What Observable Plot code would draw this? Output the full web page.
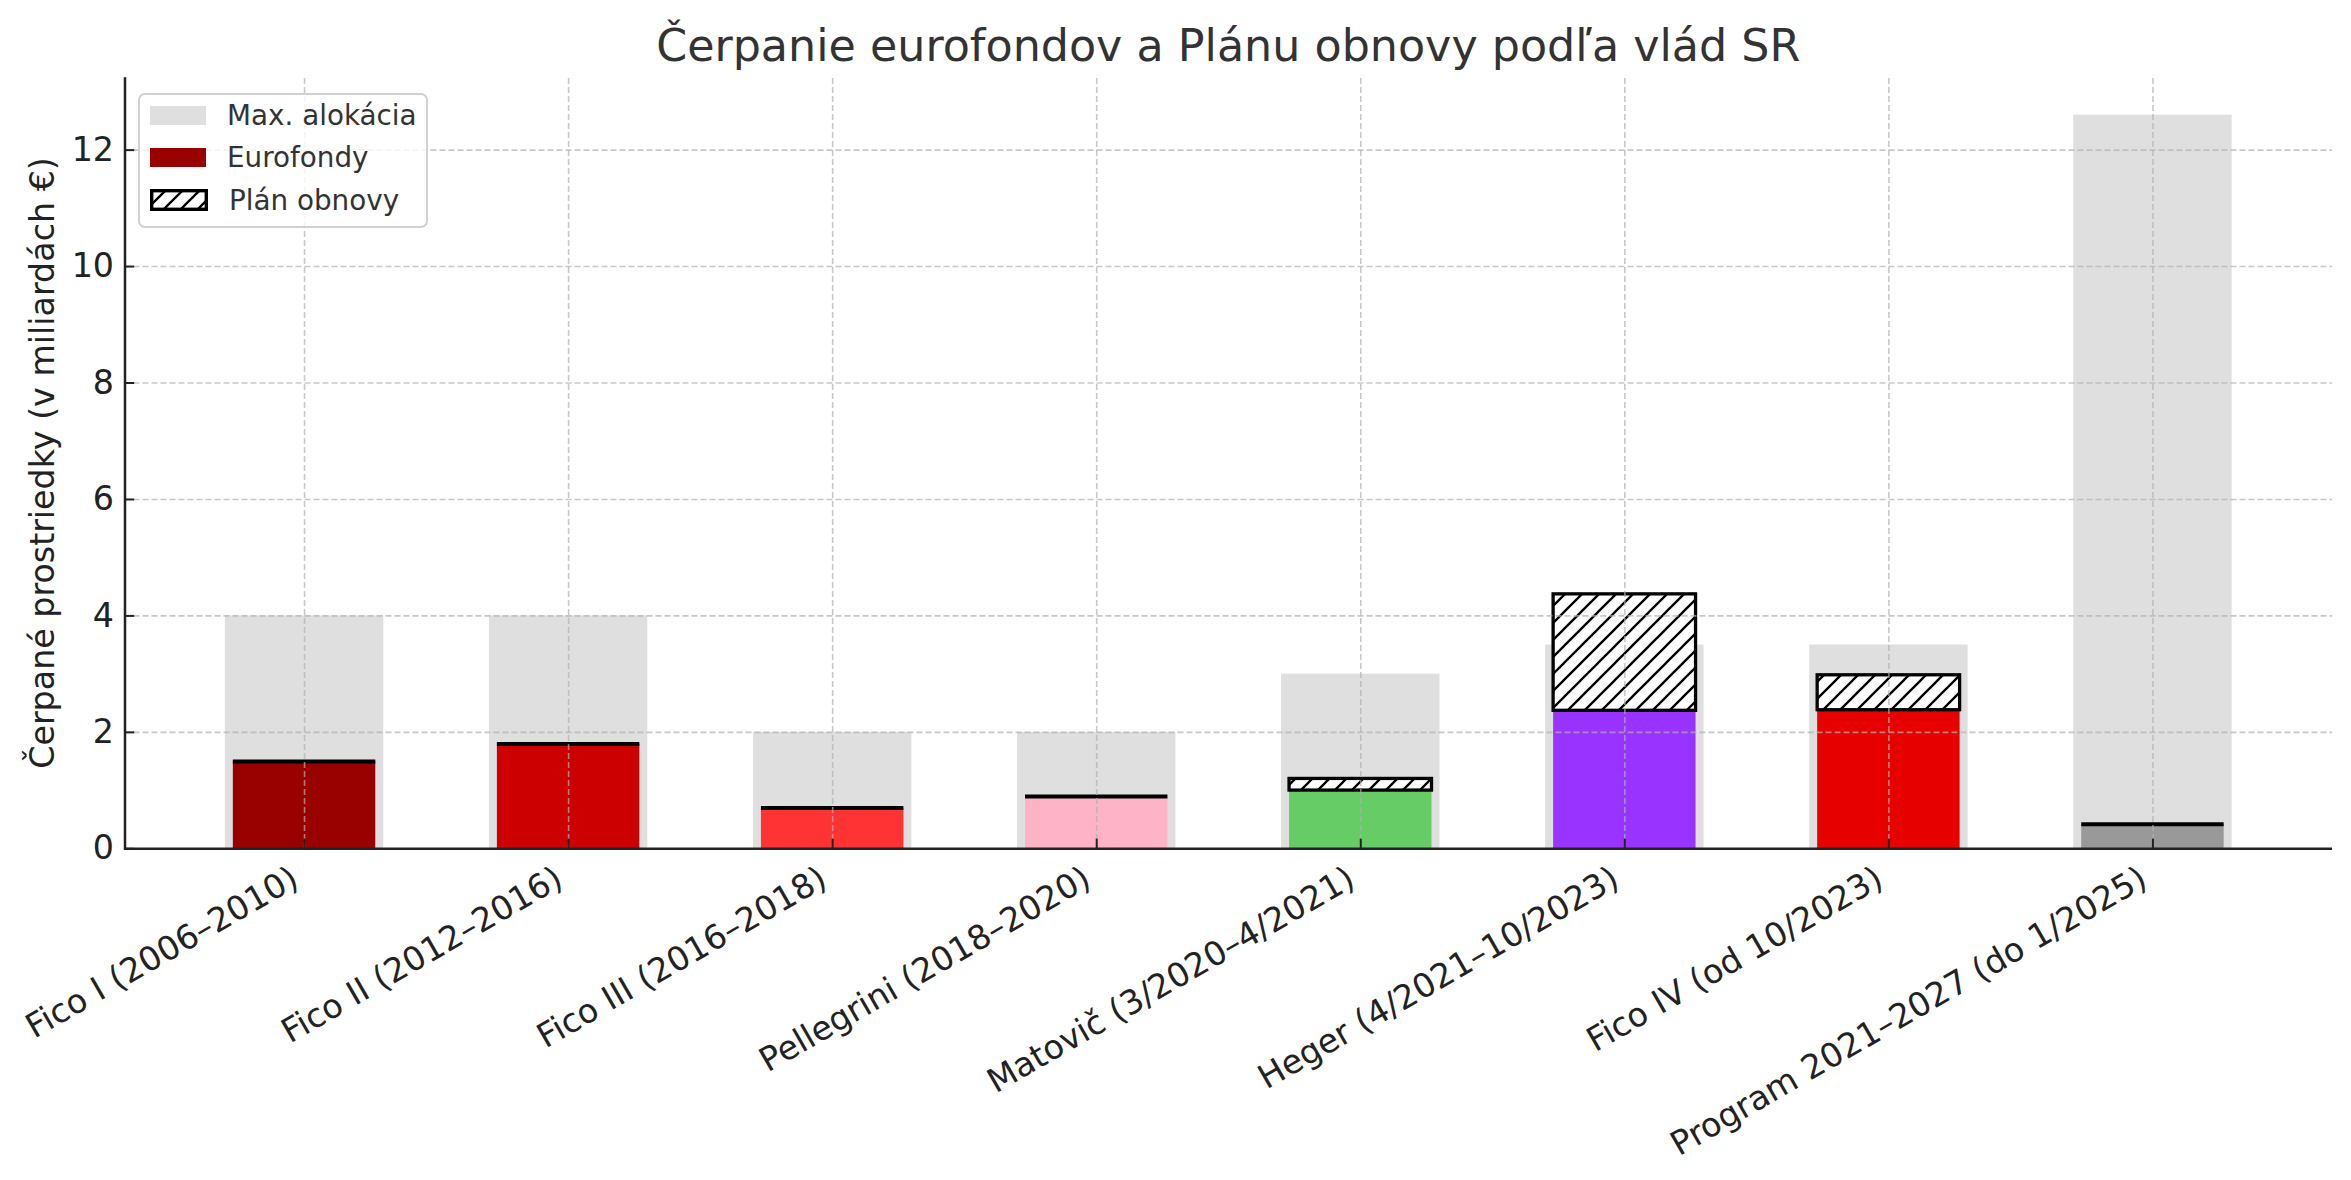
<!DOCTYPE html>
<html>
<head>
<meta charset="utf-8">
<script src="https://cdn.jsdelivr.net/npm/d3@7"></script>
<script src="https://cdn.jsdelivr.net/npm/@observablehq/plot@0.6"></script>
<style>
  body { margin: 0; background: #fff; font-family: "DejaVu Sans", sans-serif; }
  #wrap { position: relative; width: 2351px; height: 1180px; overflow: hidden; }
  #title { position: absolute; left: 124.5px; width: 2207.5px; top: 19.5px; text-align: center;
           font-size: 44.4px; line-height: 51.7px; color: #333; white-space: nowrap; }
  #ylabel { position: absolute; left: 42px; top: 463px; transform: translate(-50%, -50%) rotate(-90deg);
            font-size: 33.3px; color: #222; white-space: nowrap; }
  #legend { position: absolute; left: 138px; top: 93px; width: 286px; height: 131px;
            border: 2px solid rgba(204,204,204,0.9); border-radius: 7px; background: rgba(255,255,255,0.8); }
  .row { position: absolute; left: 0; height: 30px; display: flex; align-items: center; }
  .row svg { margin-left: 10px; display: block; }
  .row span { margin-left: 21px; font-size: 27.8px; color: #333; white-space: nowrap; }
</style>
</head>
<body>
<svg width="0" height="0" style="position:absolute">
  <defs>
    <pattern id="hatch" patternUnits="userSpaceOnUse" width="17" height="17">
      <rect width="17" height="17" fill="#fff"/>
      <path d="M0,17 L17,0 M-4,4 L4,-4 M13,21 L21,13" stroke="#000" stroke-width="2.3"/>
    </pattern>
  </defs>
</svg>
<div id="wrap">
  <div id="chart"></div>
  <div id="title"></div>
  <div id="ylabel"></div>
  <div id="legend"></div>
</div>
<script>
// ---- data ----
const chartTitle = "Čerpanie eurofondov a Plánu obnovy podľa vlád SR";
const yLabel = "Čerpané prostriedky (v miliardách €)";
const categories = [
  "Fico I (2006–2010)",
  "Fico II (2012–2016)",
  "Fico III (2016–2018)",
  "Pellegrini (2018–2020)",
  "Matovič (3/2020–4/2021)",
  "Heger (4/2021–10/2023)",
  "Fico IV (od 10/2023)",
  "Program 2021–2027 (do 1/2025)"
];
const maxAlloc   = [4, 4, 2, 2, 3, 3.5, 3.5, 12.6];
const eurofondy  = [1.5, 1.8, 0.7, 0.9, 1.0, 2.37, 2.38, 0.42];
const planObnovy = [0, 0, 0, 0, 0.2, 2.0, 0.6, 0];
const barColors  = ["#990000", "#cc0000", "#ff3333", "#ffb3c6", "#66cc66", "#9933ff", "#e60000", "#999999"];
const yTicks = [0, 2, 4, 6, 8, 10, 12];
const legendItems = ["Max. alokácia", "Eurofondy", "Plán obnovy"];

// ---- table ----
const rows = categories.map((name, i) => ({
  name, alloc: maxAlloc[i], euro: eurofondy[i], plan: planObnovy[i],
  top: eurofondy[i] + planObnovy[i], color: barColors[i]
}));

const gridStyle = {stroke: "#b0b0b0", strokeOpacity: 0.7, strokeWidth: 1.6, strokeDasharray: "6,3"};

const chart = Plot.plot({
  width: 2351,
  height: 1180,
  marginTop: 78,
  marginLeft: 124.5,
  marginRight: 19,
  marginBottom: 331.7,
  style: {fontFamily: "DejaVu Sans", fontSize: "33.3px", color: "#222", background: "transparent", overflow: "visible"},
  x: {type: "band", domain: categories, paddingInner: 0.4, paddingOuter: 0.38, align: 0.5, round: false, axis: null, label: null},
  y: {domain: [0, 13.23], axis: null, label: null},
  marks: [
    Plot.barY(rows, {x: "name", y: "alloc", fill: "#dfdfdf"}),
    Plot.barY(rows, {x: "name", y: "euro", fill: "color", insetLeft: 8, insetRight: 8}),
    Plot.barY(rows.filter(d => d.plan > 0), {x: "name", y1: "euro", y2: "top", fill: "url(#hatch)", stroke: "#000", strokeWidth: 3.3, insetLeft: 8, insetRight: 8}),
    Plot.tickY(rows.filter(d => d.plan === 0), {x: "name", y: "euro", stroke: "#000", strokeWidth: 4, insetLeft: 8, insetRight: 8}),
    Plot.gridX(categories, gridStyle),
    Plot.gridY(yTicks, gridStyle),
    Plot.ruleY([0], {stroke: "#222", strokeWidth: 2.5}),
    Plot.frame({anchor: "left", stroke: "#222", strokeWidth: 2.5}),
    Plot.axisY(yTicks, {tickSize: 9.7, dx: 9.7, tickPadding: 11, tickFormat: d3.format("d"), fontSize: 33.3, fill: "#222", stroke: "#222", strokeWidth: 2, label: null}),
    Plot.axisX(categories, {tickSize: 9.7, dy: -9.7, tickFormat: () => "", stroke: "#222", strokeWidth: 2, label: null}),
    Plot.text(categories, {x: d => d, frameAnchor: "bottom", rotate: -30, textAnchor: "end", lineAnchor: "middle", dx: -9, dy: 27, fontSize: 33.3, fill: "#222"})
  ]
});
document.getElementById("chart").appendChild(chart);

document.getElementById("title").textContent = chartTitle;
document.getElementById("ylabel").textContent = yLabel;

// ---- legend ----
const swatches = [
  `<svg width="56" height="19"><rect width="56" height="19" fill="#dfdfdf"/></svg>`,
  `<svg width="56" height="19"><rect width="56" height="19" fill="${barColors[0]}"/></svg>`,
  `<svg width="58" height="22"><rect x="1.7" y="1.7" width="54.6" height="18.6" fill="url(#hatch)" stroke="#000" stroke-width="3.4"/></svg>`
];
const legend = document.getElementById("legend");
legendItems.forEach((label, i) => {
  const row = document.createElement("div");
  row.className = "row";
  row.style.top = (5 + i * 42.5) + "px";
  row.innerHTML = swatches[i] + `<span>${label}</span>`;
  legend.appendChild(row);
});
</script>
</body>
</html>
